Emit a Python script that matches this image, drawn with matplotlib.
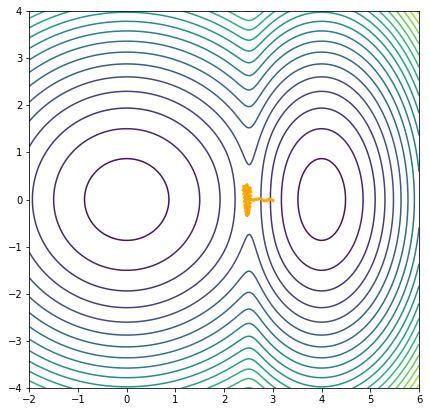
import numpy as np
import matplotlib
matplotlib.use('Agg')
import matplotlib.pyplot as plt

# two quadratic wells joined by a soft minimum, with a small hump between them
left_center = (0.0, 0.0)
right_center = (4.0, 0.0)
right_x_scale = 3.1
hump_height = 0.55
hump_x = 2.6
levels = np.arange(0.75, 28.5, 1.5)
color_min, color_max = -0.75, 30.75

# optimiser trajectory
path_x = [3.00, 2.96, 2.92, 2.88, 2.84, 2.80, 2.76, 2.72, 2.68, 2.64,
          2.60, 2.56, 2.52, 2.48, 2.40, 2.54, 2.39, 2.55, 2.40, 2.55,
          2.41, 2.54, 2.41, 2.54, 2.42, 2.53, 2.43, 2.52, 2.44, 2.51,
          2.45, 2.50, 2.46, 2.49, 2.47, 2.50, 2.44, 2.53, 2.42, 2.47]
path_y = [-0.02, 0.00, 0.01, -0.02, -0.03, -0.02, 0.01, 0.02, 0.00, 0.01,
          -0.02, 0.00, 0.02, 0.01, 0.28, 0.24, 0.20, 0.16, 0.12, 0.08,
          0.04, 0.00, -0.04, -0.08, -0.12, -0.15, -0.18, -0.21, -0.24, -0.27,
          -0.29, -0.31, -0.33, -0.30, -0.34, -0.20, 0.05, 0.20, 0.26, 0.31]

x = np.linspace(-2, 6, 600)
y = np.linspace(-4, 4, 600)
X, Y = np.meshgrid(x, y)
f1 = (X - left_center[0])**2 + (Y - left_center[1])**2
f2 = right_x_scale * (X - right_center[0])**2 + (Y - right_center[1])**2
hump = hump_height * np.exp(-(X - hump_x)**2 / (2 * 0.35**2) - Y**2 / (2 * 0.8**2))
Z = -np.logaddexp(-f1, -f2) + hump

fig = plt.figure(figsize=(429/72, 415/72), dpi=72)
ax = fig.add_axes([29.3/429, (415-388.3)/415, 389.7/429, 377.6/415])
ax.contour(X, Y, Z, levels=levels, cmap='viridis', vmin=color_min, vmax=color_max,
           linewidths=1.5)
ax.plot(path_x, path_y, color='orange', linewidth=3)
ax.set_xlim(-2, 6)
ax.set_ylim(-4, 4)
fig.savefig('out.png', dpi=72)
